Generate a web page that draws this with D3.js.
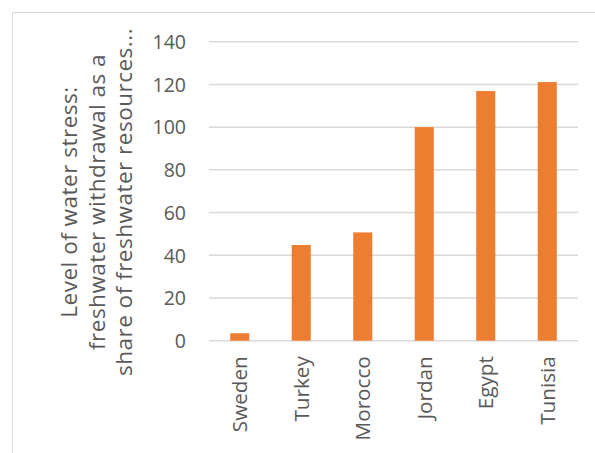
<!DOCTYPE html>
<html><head><meta charset="utf-8">
<script src="https://cdn.jsdelivr.net/npm/d3@7"></script>
<style>body{margin:0;background:#fff}svg{display:block}text{font-family:"Open Sans",sans-serif;fill:#595959}</style>
</head><body><svg id="c" width="595" height="453"></svg>
<script>
const categories = ["Sweden","Turkey","Morocco","Jordan","Egypt","Tunisia"];
const values = [3.5, 44.8, 50.7, 100, 116.9, 121.1];
const yTicks = [0,20,40,60,80,100,120,140];
const titleLines = ["Level of water stress:","freshwater withdrawal as a","share of freshwater resources..."];

(function(){
const svg = d3.select("#c");
svg.append("rect").attr("x",12.5).attr("y",12.5).attr("width",620).attr("height",480)
  .attr("fill","#fff").attr("stroke","#d9d9d9").attr("stroke-width",1);

const pl=209, pr=578, pt=41.7, pb=340.7;
const x = d3.scaleBand().domain(categories).range([pl,pr]).paddingInner(0.69).paddingOuter(0.345);
const y = d3.scaleLinear().domain([0,140]).range([pb,pt]);

const grid = svg.append("g");
grid.selectAll("line").data(yTicks).join("line")
  .attr("x1",pl).attr("x2",pr).attr("y1",d=>y(d)).attr("y2",d=>y(d))
  .attr("stroke","#d9d9d9").attr("stroke-width",1.5);

const yAxis = svg.append("g").attr("transform",`translate(${pl},0)`)
  .call(d3.axisLeft(y).tickValues(yTicks).tickSize(0).tickPadding(23));
yAxis.select(".domain").remove();
yAxis.selectAll("text").style("font-size","19.5px").attr("fill","#595959").attr("dy","0.35em");

svg.append("g").selectAll("rect").data(values).join("rect")
  .attr("x",(d,i)=>x(categories[i])).attr("width",x.bandwidth())
  .attr("y",d=>y(d)).attr("height",d=>y(0)-y(d)).attr("fill","#ED7D31");

const xAxis = svg.append("g").attr("transform",`translate(0,${pb})`)
  .call(d3.axisBottom(x).tickSize(0).tickPadding(0));
xAxis.select(".domain").remove();
xAxis.selectAll("text").style("font-size","20.7px").attr("fill","#595959")
  .attr("text-anchor","end").attr("transform","translate(0,15.5) rotate(-90)")
  .attr("x",0).attr("y",0).attr("dy","0.35em");

const t = svg.append("text").attr("transform","translate(97,202) rotate(-90)")
  .attr("text-anchor","middle").style("font-size","22.5px").style("letter-spacing","0.5px");
titleLines.forEach((l,i)=>{
  t.append("tspan").attr("x",0).attr("y",(i-1)*27.5).attr("dy","0.35em").text(l);
});
})();
</script></body></html>
